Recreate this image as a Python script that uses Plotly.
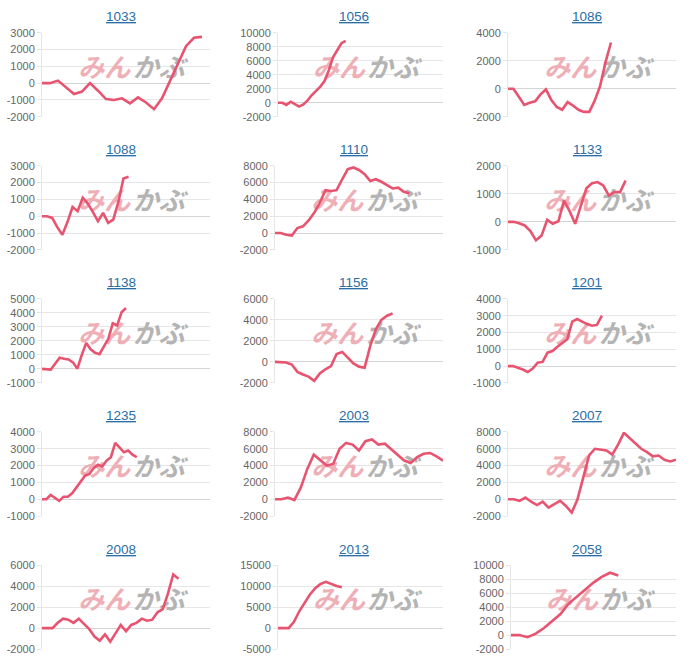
import plotly.graph_objects as go

W, H = 700, 665

codes = ["1033", "1056", "1086", "1088", "1110", "1133", "1138", "1156",
         "1201", "1235", "2003", "2007", "2008", "2013", "2058"]

s1033 = [0, 0, 150, -250, -650, -500, 0, -450, -950, -1000, -900, -1200, -850,
         -1150, -1550, -900, 100, 1200, 2200, 2700, 2750]
s1056 = [0, 0, -300, 150, -200, -550, -250, 350, 1100, 1700, 2300, 3100, 4600,
         6500, 7600, 8500, 8850]
s1086 = [0, 0, -575, -1150, -1000, -900, -400, -50, -800, -1300, -1500, -950,
         -1200, -1500, -1650, -1650, -850, 200, 1900, 3300]
s1088 = [0, 0, -100, -650, -1100, -350, 550, 300, 1100, 750, 250, -300, 200,
         -400, -200, 850, 2250, 2350]
s1110 = [0, 0, -200, -300, 600, 800, 1500, 2400, 3600, 5100, 5000, 5100, 6400,
         7600, 7800, 7500, 7000, 6200, 6400, 6100, 5700, 5300, 5400, 4900, 4700]
s1133 = [0, 0, -50, -130, -330, -660, -490, 70, -70, 20, 760, 380, -70, 580,
         1200, 1380, 1420, 1300, 940, 1060, 1060, 1470]
s1138 = [0, 0, -50, 380, 800, 730, 680, 470, 20, 1000, 1850, 1400, 1150, 1050,
         1550, 2150, 3250, 3100, 4050, 4350]
s1156 = [0, 0, -50, -250, -950, -1200, -1400, -1800, -1100, -700, -400, 750,
         950, 400, -150, -450, -550, 1500, 3100, 4000, 4400, 4600]
s1201 = [0, 0, -100, -200, -350, -150, 200, 250, 800, 900, 1150, 1400, 1600,
         2650, 2800, 2650, 2500, 2400, 2450, 3000]
s1235 = [0, 0, 250, 50, -100, 150, 150, 350, 700, 1000, 1400, 1500, 1850, 2050,
         1950, 2300, 2500, 3350, 3100, 2800, 2900, 2650, 2500]
s2003 = [0, 0, 200, -100, 1400, 3600, 5300, 4600, 4000, 4200, 6000, 6700, 6500,
         5800, 6900, 7100, 6500, 6600, 5900, 5200, 4600, 4300, 5000, 5400, 5500,
         5100, 4600]
s2007 = [0, 0, -200, 200, -300, -700, -300, -1000, -600, -200, -800, -1600, 0,
         2600, 5200, 6000, 5900, 5800, 5300, 6500, 7900, 7300, 6600, 6000, 5600,
         5100, 5200, 4700, 4500, 4700]
s2008 = [0, 0, 0, 500, 900, 800, 500, 900, 400, -100, -800, -1200, -600, -1300,
         -500, 300, -300, 300, 500, 900, 700, 800, 1500, 1800, 3300, 5100, 4700]
s2013 = [0, 0, 0, 1500, 4000, 6000, 8000, 9500, 10500, 11000, 10500, 10000, 9700]
s2058 = [0, 0, -300, 200, 1000, 2000, 3000, 4500, 5500, 6500, 7500, 8300, 8900,
         8500]

series = [s1033, s1056, s1086, s1088, s1110, s1133, s1138, s1156,
          s1201, s1235, s2003, s2007, s2008, s2013, s2058]

# number of x categories on each chart's axis
n_cats = [22, 40, 32, 34, 31, 31, 39, 31, 35, 40, 27, 30, 33, 32, 21]

y_min = [-2000, -2000, -2000, -2000, -2000, -1000, -1000, -2000,
         -1000, -1000, -2000, -2000, -2000, -5000, -2000]
y_max = [3000, 10000, 4000, 3000, 8000, 2000, 5000, 6000,
         4000, 4000, 8000, 8000, 6000, 15000, 10000]
y_step = [1000, 2000, 2000, 1000, 2000, 1000, 1000, 2000,
          1000, 1000, 2000, 2000, 2000, 5000, 2000]

LINE = "rgb(232,84,112)"
GRID = "#e6e6e6"
TITLE = "#2b6ea6"


def vy(d):
    # vertical placement (pixels from top) -> paper fraction
    return 1 - (d * 1.019 - 5.4) / H


fig = go.Figure()
annotations = []
layout = {}

for i, code in enumerate(codes):
    r, c = divmod(i, 3)
    sfx = "" if i == 0 else str(i + 1)
    n = n_cats[i]
    x_left = c * 233 + (45 if y_max[i] >= 10000 else 42)
    x_right = c * 233 + 210
    y_top = r * 133 + 32
    y_bot = r * 133 + 116

    yr = y_max[i] - y_min[i]
    wx_a = (n - 1) * 0.37
    wx_b = (n - 1) * 0.695
    wy = y_max[i] - 0.45 * yr

    fig.add_trace(go.Scatter(
        x=[wx_a], y=[wy], mode="text", text=["みん"],
        textfont=dict(family="Noto Sans CJK JP", size=26, color="rgb(238,176,182)",
                      weight="bold", style="italic"),
        hoverinfo="skip", showlegend=False, cliponaxis=False,
        xaxis="x" + sfx, yaxis="y" + sfx))
    fig.add_trace(go.Scatter(
        x=[wx_b], y=[wy], mode="text", text=["かぶ"],
        textfont=dict(family="Noto Sans CJK JP", size=26, color="rgb(180,180,180)",
                      weight="bold", style="italic"),
        hoverinfo="skip", showlegend=False, cliponaxis=False,
        xaxis="x" + sfx, yaxis="y" + sfx))

    fig.add_trace(go.Scatter(
        x=list(range(len(series[i]))), y=series[i], mode="lines",
        line=dict(color=LINE, width=2.6), showlegend=False,
        xaxis="x" + sfx, yaxis="y" + sfx, cliponaxis=False))

    tv = list(range(y_min[i], y_max[i] + 1, y_step[i]))
    layout["xaxis" + sfx] = dict(
        domain=[x_left / W, x_right / W], range=[0, n - 1],
        showgrid=False, zeroline=False, showline=False, showticklabels=False,
        ticks="", anchor="y" + sfx, fixedrange=True)
    layout["yaxis" + sfx] = dict(
        domain=[vy(y_bot), vy(y_top)], range=[y_min[i], y_max[i]],
        tickmode="array", tickvals=tv, ticktext=[str(v) for v in tv],
        showgrid=True, gridcolor=GRID,
        gridwidth=1, zeroline=True, zerolinecolor="#d4d4d4", zerolinewidth=1,
        showline=True, linecolor=GRID, ticks="outside", ticklen=4,
        tickcolor=GRID, tickfont=dict(family="Arial", size=11, color="#666666"),
        anchor="x" + sfx, fixedrange=True)

    annotations.append(dict(
        text=code, x=(c * 233 + 121) / W, y=vy(r * 133 + 16),
        xref="paper", yref="paper", showarrow=False,
        xanchor="center", yanchor="middle",
        font=dict(family="Arial", size=13.5, color=TITLE, lineposition="under")))

fig.update_layout(
    width=W, height=H, margin=dict(l=0, r=0, t=0, b=0),
    paper_bgcolor="white", plot_bgcolor="white",
    annotations=annotations, **layout)

fig.write_html("out.html", config={"displayModeBar": False},
               post_script="document.body.style.margin='0';document.body.style.padding='0';")
